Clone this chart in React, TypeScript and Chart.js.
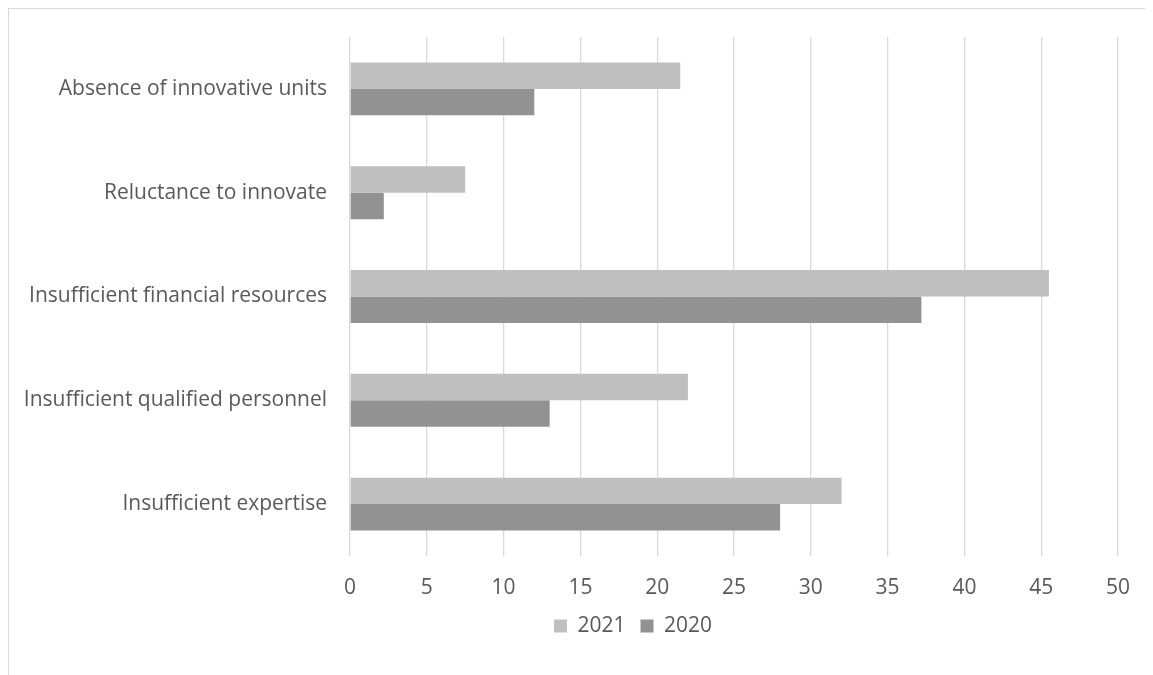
import React, { useEffect, useRef } from "react";
import { Chart, registerables } from "chart.js";

Chart.register(...registerables);

const categories = [
  "Absence of innovative units",
  "Reluctance to innovate",
  "Insufficient financial resources",
  "Insufficient qualified personnel",
  "Insufficient expertise",
];
const values2021 = [21.5, 7.5, 45.5, 22.0, 32.0];
const values2020 = [12.0, 2.2, 37.2, 13.0, 28.0];
const seriesLabels = ["2021", "2020"];
const xTickMin = 0;
const xTickMax = 50;
const xTickStep = 5;

const FONT = "'Open Sans', 'Noto Sans', sans-serif";
const TEXT = "#595959";
const GRID = "#d9d9d9";

const legendShift = {
  id: "legendShift",
  afterLayout(chart: any) {
    const lg = chart.legend;
    if (!lg) return;
    lg.left += 65.5;
    lg.right += 65.5;
  },
};

export default function App() {
  const ref = useRef<HTMLCanvasElement | null>(null);

  useEffect(() => {
    if (!ref.current) return;
    const chart = new Chart(ref.current, {
      type: "bar",
      data: {
        labels: categories,
        datasets: [
          { label: seriesLabels[0], data: values2021, backgroundColor: "#bfbfbf", borderWidth: 0 },
          { label: seriesLabels[1], data: values2020, backgroundColor: "#929292", borderWidth: 0 },
        ],
      },
      plugins: [legendShift],
      options: {
        indexAxis: "y",
        animation: false,
        responsive: true,
        maintainAspectRatio: false,
        datasets: { bar: { categoryPercentage: 0.51, barPercentage: 1 } },
        layout: { padding: { top: 28, right: 35, bottom: 28.4, left: 8 } },
        plugins: {
          tooltip: { enabled: false },
          legend: {
            position: "bottom",
            labels: {
              boxWidth: 13,
              boxHeight: 13,
              padding: 15,
              color: TEXT,
              font: { family: FONT, size: 21 },
            },
          },
        },
        scales: {
          x: {
            type: "linear",
            min: xTickMin,
            max: xTickMax,
            ticks: { stepSize: xTickStep, padding: 19.4, color: TEXT, font: { family: FONT, size: 21 } },
            grid: { color: GRID, lineWidth: 1.3, drawTicks: false },
            border: { display: false },
            afterFit: (scale: any) => {
              scale.height = 44.6;
            },
          },
          y: {
            ticks: { padding: 23, color: TEXT, font: { family: FONT, size: 21 } },
            grid: { display: false, drawTicks: false },
            border: { display: false },
            afterFit: (scale: any) => {
              scale.width = 333;
              scale.paddingTop = 0;
              scale.paddingBottom = 0;
            },
          },
        },
      },
    });
    return () => chart.destroy();
  }, []);

  return (
    <div
      style={{
        boxSizing: "border-box",
        width: 1145,
        height: 667,
        borderTop: "1px solid #d9d9d9",
        borderLeft: "1px solid #d9d9d9",
        background: "#fff",
      }}
    >
      <div style={{ position: "relative", width: 1144, height: 666 }}>
        <canvas ref={ref} />
      </div>
    </div>
  );
}
